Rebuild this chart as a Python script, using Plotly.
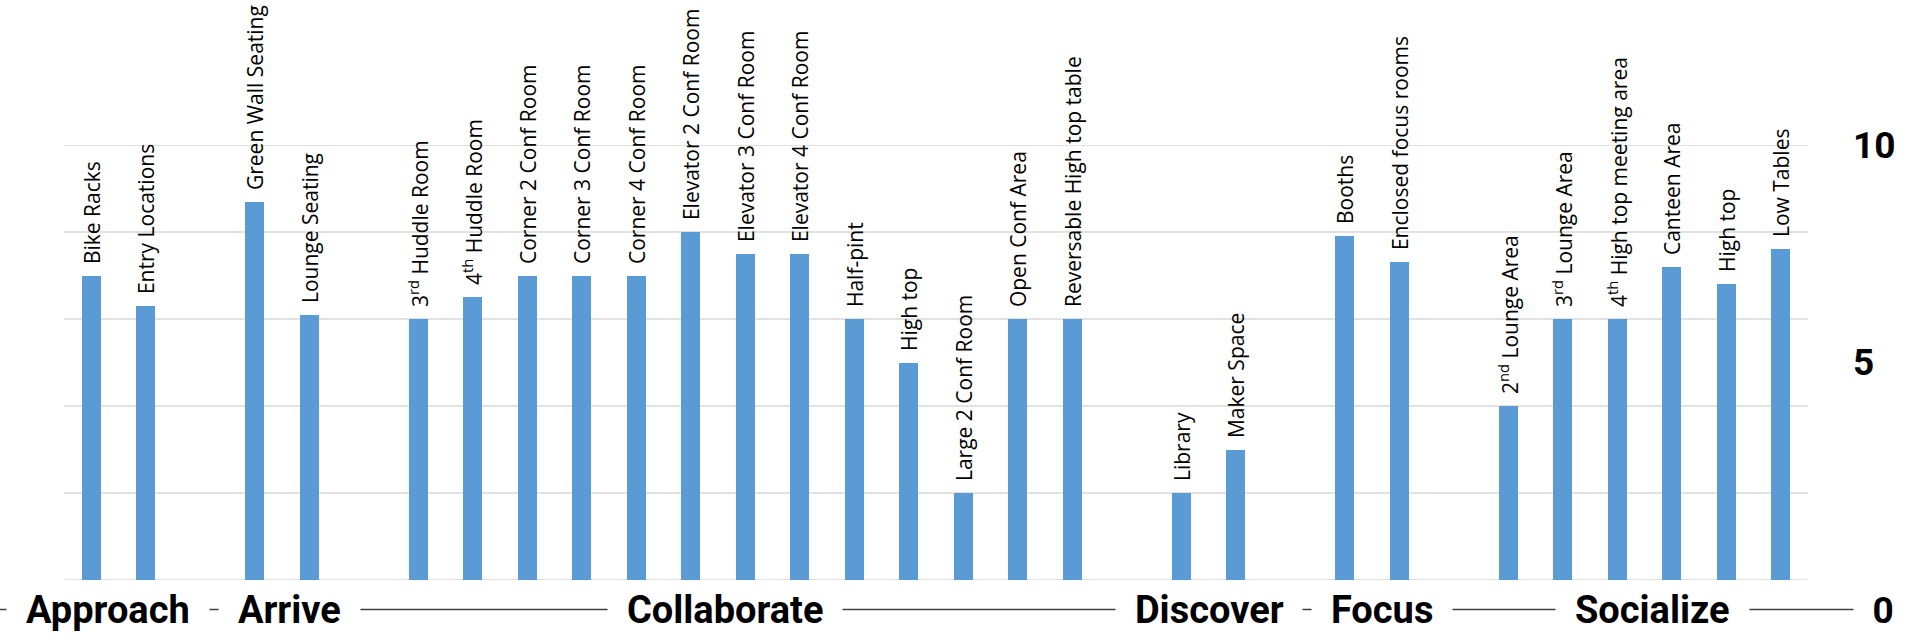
import plotly.graph_objects as go

groups = ["Approach", "Arrive", "Collaborate", "Discover", "Focus", "Socialize"]

approach_items = ["Bike Racks", "Entry Locations"]
approach_vals = [7.0, 6.3]

arrive_items = ["Green Wall Seating", "Lounge Seating"]
arrive_vals = [8.7, 6.1]

collaborate_items = [
    "3<sup>rd</sup> Huddle Room",
    "4<sup>th</sup> Huddle Room",
    "Corner 2 Conf Room",
    "Corner 3 Conf Room",
    "Corner 4 Conf Room",
    "Elevator 2 Conf Room",
    "Elevator 3 Conf Room",
    "Elevator 4 Conf Room",
    "Half-pint",
    "High top",
    "Large 2 Conf Room",
    "Open Conf Area",
    "Reversable High top table",
]
collaborate_vals = [6.0, 6.5, 7.0, 7.0, 7.0, 8.0, 7.5, 7.5, 6.0, 5.0, 2.0, 6.0, 6.0]

discover_items = ["Library", "Maker Space"]
discover_vals = [2.0, 3.0]

focus_items = ["Booths", "Enclosed focus rooms"]
focus_vals = [7.9, 7.3]

socialize_items = [
    "2<sup>nd</sup> Lounge Area",
    "3<sup>rd</sup> Lounge Area",
    "4<sup>th</sup> High top meeting area",
    "Canteen Area",
    "High top",
    "Low Tables",
]
socialize_vals = [4.0, 6.0, 6.0, 7.2, 6.8, 7.6]

grid_vals = [0, 2, 4, 6, 8, 10]
tick_vals = [5, 10]
tick_text = ["5", "10"]

group_items = [approach_items, arrive_items, collaborate_items,
               discover_items, focus_items, socialize_items]
group_vals = [approach_vals, arrive_vals, collaborate_vals,
              discover_vals, focus_vals, socialize_vals]

# the group names are not exactly centred under their bars in the original
label_shift = [-0.2, 0.14, -0.38, 0.0, 0.19, 0.15]

# build category order with one empty slot between groups
order, x_keys, labels, values, group_pos = [], [], [], [], []
for gi, (g, items, vals) in enumerate(zip(groups, group_items, group_vals)):
    if gi > 0:
        order.append("gap%d" % gi)
    start = len(order)
    for name, v in zip(items, vals):
        key = g + "|" + name
        order.append(key)
        x_keys.append(key)
        # small lead space keeps the label off the bar top
        labels.append("\u00a0\u2009" + name)
        values.append(v)
    group_pos.append((start + len(order) - 1) / 2 + label_shift[gi])

bar_color = "#5b9bd5"
grid_color = "#d9d9d9"
big_font = dict(family="Roboto", size=38, color="black", weight="bold")
tick_font = dict(family="Roboto", size=37, color="black", weight="bold")
pad = "\u00a0\u00a0"

fig = go.Figure(go.Bar(
    x=x_keys,
    y=values,
    width=0.35,
    marker_color=bar_color,
    marker_line_width=0,
    text=labels,
    textposition="outside",
    textangle=-90,
    constraintext="none",
    cliponaxis=False,
    textfont=dict(family="Open Sans", size=21, color="black"),
    hoverinfo="skip",
))

shapes = []
for g in grid_vals:
    shapes.append(dict(type="line", xref="paper", yref="y", x0=0, x1=1, y0=g, y1=g,
                       line=dict(color=grid_color, width=1.5), layer="below"))
# category row line
shapes.append(dict(type="line", xref="paper", yref="paper", x0=-0.037, x1=1.043,
                   y0=-0.068, y1=-0.068, line=dict(color="#404040", width=1.5)))

annotations = []
for g, p in zip(groups, group_pos):
    annotations.append(dict(x=p, xref="x", y=-0.07, yref="paper", text=pad + g + pad,
                            showarrow=False, font=big_font, bgcolor="white",
                            xanchor="center", yanchor="middle", borderpad=0))
annotations.append(dict(x=1.043, xref="paper", y=-0.07, yref="paper", text=pad + "0" + pad,
                        showarrow=False, font=tick_font, bgcolor="white",
                        xanchor="center", yanchor="middle", borderpad=0))

fig.update_layout(
    width=1921,
    height=642,
    margin=dict(l=64, r=113, t=145, b=62),
    plot_bgcolor="white",
    paper_bgcolor="white",
    showlegend=False,
    bargap=0,
    shapes=shapes,
    annotations=annotations,
    xaxis=dict(type="category", categoryorder="array", categoryarray=order,
               range=[-0.5, len(order) - 0.5], showticklabels=False,
               showgrid=False, zeroline=False, showline=False, ticks="",
               automargin=False),
    yaxis=dict(range=[0, 10], side="right", tickvals=tick_vals, ticktext=tick_text,
               showgrid=False, zeroline=False, showline=False, ticks="",
               tickfont=tick_font, ticklabelstandoff=44, automargin=False),
)

# drop the page's default body margin so the figure sits at the window corner
fig.write_html("out.html", config={"displayModeBar": False},
               post_script="document.body.style.margin='0';")
